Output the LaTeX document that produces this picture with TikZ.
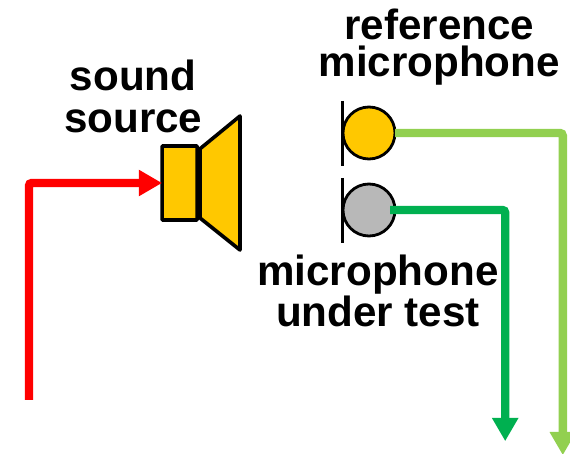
\documentclass[tikz,border=0pt]{standalone}
\usepackage{fontspec}
\setmainfont{Liberation Sans}
\usetikzlibrary{arrows.meta,positioning}
\definecolor{speakeryellow}{HTML}{FFC800}
\definecolor{micgray}{HTML}{B8B8B8}
\definecolor{wirelight}{HTML}{92D050}
\definecolor{wiredark}{HTML}{00B050}
\tikzset{
    label text/.style={font=\bfseries\fontsize{30}{29.5}\selectfont, align=center, inner sep=0pt},
    wire/.style={line width=0.21cm, rounded corners=2pt, -{Triangle[length=0.58cm, width=0.62cm]}},
    mic/.style={circle, draw, line width=0.07cm, minimum size=1.3cm, inner sep=0pt, outer sep=0pt},
    micbar/.style={line width=0.08cm},
}

\begin{document}
\begin{tikzpicture}
        \useasboundingbox (0, 0) rectangle (14.25, -11.35);

        \node[draw, fill=speakeryellow, line width=0.09cm, rounded corners=0.5pt, minimum width=0.875cm, minimum height=1.85cm, inner sep=0pt, outer sep=0pt] (speaker) at (4.49, -4.575) {};
        \draw[fill=speakeryellow, line width=0.09cm, line join=round] (5, -3.72) -- (6, -2.9) -- (6, -6.25) -- (5, -5.45) -- cycle;

        \node[mic, fill=speakeryellow] (refmic) at (9.225, -3.325) {};
        \node[mic, fill=micgray] (testmic) at (9.225, -5.25) {};
        \draw[micbar] (8.56, -2.525) -- ++(0, -1.625);
        \draw[micbar] (8.56, -4.45) -- ++(0, -1.625);

        \coordinate (inputend) at (0.725, -10);
        \coordinate (refend) at (14.07, -11.38);
        \coordinate (testend) at (12.63, -11.03);
        \coordinate (teststart) at (9.75, -5.25);

        \draw[wire, red] (inputend) |- (speaker.west);
        \draw[wire, wirelight] (refmic.east) -| (refend);
        \draw[wire, wiredark] (teststart) -| (testend);

        \node[label text] (sourcelabel) at (3.33, -2.41) {sound\\source};
        \node[label text, font=\bfseries\fontsize{30}{26.3}\selectfont] (reflabel) at (10.98, -1.18) {reference\\microphone};
        \node[label text] (testlabel) at (9.45, -7.27) {microphone\\under test};
    \end{tikzpicture}
\end{document}
